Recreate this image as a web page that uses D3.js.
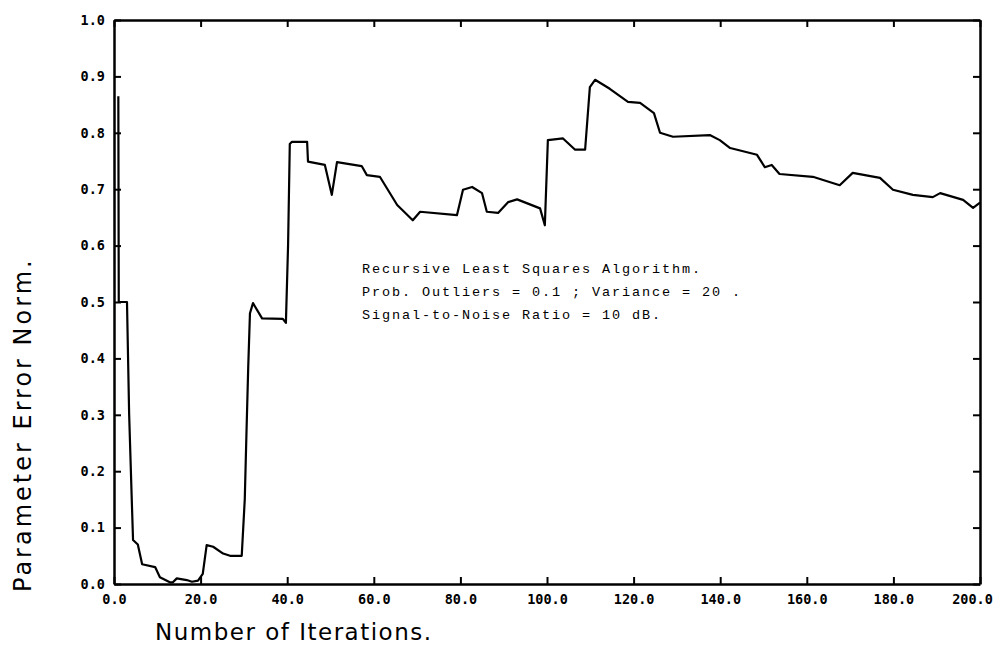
<!DOCTYPE html>
<html>
<head>
<meta charset="utf-8">
<script src="https://cdn.jsdelivr.net/npm/d3@7/dist/d3.min.js"></script>
<style>
  html, body { margin: 0; padding: 0; background: #fff; }
  svg { display: block; }
</style>
</head>
<body>
<svg id="chart" width="1000" height="649"></svg>
<script>
// ---- data ----
const iterations = [
  1.0, 1.1, 3.0, 3.5, 4.1, 4.4, 5.5, 6.5, 9.5, 10.6, 12.9, 13.6, 14.5, 16.8, 18.0, 19.4,
  20.5, 21.4, 22.9, 25.2, 26.8, 29.5, 30.2, 30.6, 31.0, 31.4, 32.1, 34.2, 39.0, 39.7,
  40.2, 40.6, 41.1, 44.6, 44.8, 48.7, 50.3, 51.5, 57.2, 58.4, 61.4, 65.4, 69.0, 70.7,
  79.2, 80.6, 82.7, 85.0, 86.1, 88.7, 91.0, 93.1, 98.4, 99.5, 100.2, 103.7, 106.5,
  108.8, 109.9, 111.1, 114.5, 118.7, 121.5, 124.7, 126.1, 129.1, 137.6, 139.9, 142.3,
  148.5, 150.3, 151.9, 153.7, 161.4, 167.6, 170.6, 176.9, 179.9, 184.5, 189.1, 190.8,
  196.1, 198.4, 200.0
];
const errorNorm = [
  0.865, 0.50, 0.50, 0.30, 0.15, 0.078, 0.07, 0.035, 0.03, 0.012, 0.003, 0.003, 0.010, 0.007, 0.004, 0.006,
  0.018, 0.069, 0.066, 0.054, 0.050, 0.050, 0.15, 0.27, 0.385, 0.48, 0.498, 0.471, 0.470, 0.463,
  0.60, 0.78, 0.784, 0.784, 0.749, 0.743, 0.690, 0.748, 0.741, 0.725, 0.722, 0.672, 0.645, 0.660,
  0.654, 0.699, 0.704, 0.693, 0.660, 0.658, 0.677, 0.682, 0.666, 0.636, 0.787, 0.790, 0.770,
  0.770, 0.881, 0.894, 0.878, 0.855, 0.853, 0.835, 0.800, 0.793, 0.796, 0.787, 0.773,
  0.761, 0.739, 0.743, 0.727, 0.722, 0.707, 0.729, 0.720, 0.699, 0.690, 0.686, 0.693,
  0.681, 0.667, 0.676
];
const xTicks = [0, 20, 40, 60, 80, 100, 120, 140, 160, 180, 200];
const yTicks = [0, 0.1, 0.2, 0.3, 0.4, 0.5, 0.6, 0.7, 0.8, 0.9, 1.0];
const xTitle = "Number of Iterations.";
const yTitle = "Parameter Error Norm.";
const noteLines = [
  "Recursive Least Squares Algorithm.",
  "Prob. Outliers = 0.1 ; Variance = 20 .",
  "Signal-to-Noise Ratio = 10 dB."
];

// ---- layout ----
const svg = d3.select("#chart");
const L = 114, R = 980, T = 20, B = 584;

const x = d3.scaleLinear().domain([0, 200]).range([L, R]);
const y = d3.scaleLinear().domain([0, 1]).range([B, T]);

const tickFont = "'DejaVu Sans Mono', 'Liberation Mono', monospace";

function styleAxis(g) {
  g.select(".domain").attr("stroke", "#000").attr("stroke-width", 2.5);
  g.selectAll(".tick line").attr("stroke", "#000").attr("stroke-width", 2);
  g.selectAll(".tick text")
    .attr("fill", "#000")
    .style("font-family", tickFont)
    .style("font-weight", "bold")
    .style("font-size", "13.5px");
}

const gx = svg.append("g").attr("transform", `translate(0,${B})`)
  .call(d3.axisBottom(x).tickValues(xTicks).tickFormat(d3.format(".1f"))
    .tickSizeInner(-7).tickSizeOuter(0).tickPadding(10))
  .call(styleAxis);
// keep the last label inside the page
gx.selectAll(".tick text").filter(d => d === 200).attr("dx", -8);

svg.append("g").attr("transform", `translate(0,${T})`)
  .call(d3.axisTop(x).tickValues(xTicks).tickFormat("")
    .tickSizeInner(-7).tickSizeOuter(0))
  .call(styleAxis);

svg.append("g").attr("transform", `translate(${L},0)`)
  .call(d3.axisLeft(y).tickValues(yTicks).tickFormat(d3.format(".1f"))
    .tickSizeInner(-7).tickSizeOuter(0).tickPadding(9))
  .call(styleAxis);

svg.append("g").attr("transform", `translate(${R},0)`)
  .call(d3.axisRight(y).tickValues(yTicks).tickFormat("")
    .tickSizeInner(-7).tickSizeOuter(0))
  .call(styleAxis);

// ---- data line ----
const pts = iterations.map((d, i) => [d, errorNorm[i]]);
svg.append("path")
  .datum(pts)
  .attr("fill", "none")
  .attr("stroke", "#000")
  .attr("stroke-width", 2.2)
  .attr("stroke-linejoin", "round")
  .attr("d", d3.line().x(d => x(d[0])).y(d => y(d[1])));

// ---- titles ----
const titleFont = "'DejaVu Sans', 'Noto Sans', sans-serif";
svg.append("text")
  .attr("x", 155).attr("y", 640)
  .style("font-family", titleFont)
  .style("font-size", "23px")
  .style("letter-spacing", "1.5px")
  .attr("fill", "#000")
  .text(xTitle);

svg.append("text")
  .attr("transform", "translate(31,592) rotate(-90)")
  .style("font-family", titleFont)
  .style("font-size", "24px")
  .style("letter-spacing", "3px")
  .attr("fill", "#000")
  .text(yTitle);

// ---- annotation ----
svg.append("g").selectAll("text")
  .data(noteLines)
  .join("text")
  .attr("x", 362)
  .attr("y", (d, i) => 273 + i * 23)
  .style("font-family", "'Liberation Mono', 'DejaVu Sans Mono', monospace")
  .style("font-size", "13.5px")
  .style("letter-spacing", "1.9px")
  .attr("fill", "#000")
  .text(d => d);
</script>
</body>
</html>
